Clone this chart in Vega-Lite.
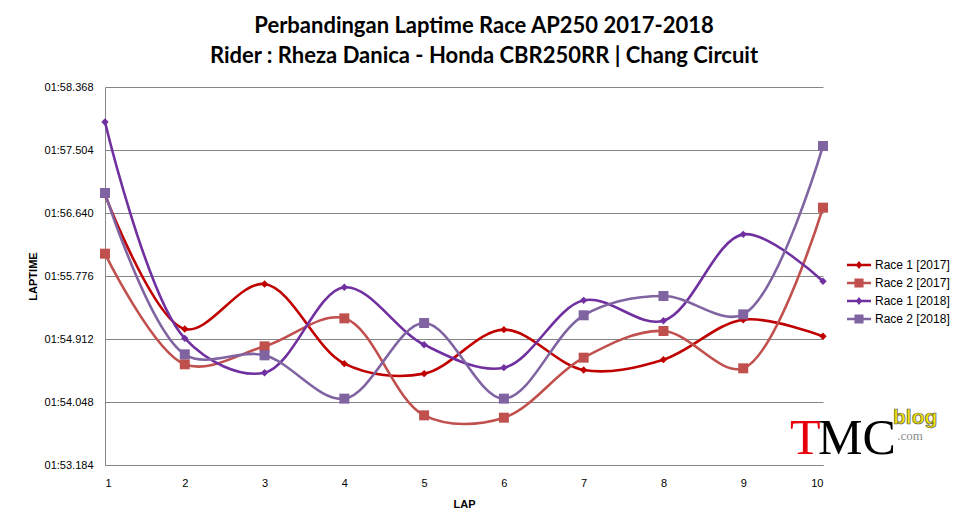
{
  "$schema": "https://vega.github.io/schema/vega-lite/v6.json",
  "autosize": "none",
  "width": 718,
  "height": 378,
  "padding": {"left": 105, "top": 87, "right": 145, "bottom": 65},
  "background": "white",
  "config": {"view": {"stroke": null}, "font": "Liberation Sans"},
  "title": {
    "text": ["Perbandingan Laptime  Race AP250 2017-2018", "Rider : Rheza Danica - Honda CBR250RR | Chang Circuit"],
    "font": "Lato",
    "fontSize": 22,
    "fontWeight": "bold",
    "lineHeight": 30,
    "color": "black",
    "anchor": "middle",
    "frame": "group",
    "dx": 20,
    "offset": 13
  },
  "datasets": {
    "laps": [
      {"lap": 1, "series": "Race 1 [2017]", "laptime": 116.89},
      {"lap": 2, "series": "Race 1 [2017]", "laptime": 115.049},
      {"lap": 3, "series": "Race 1 [2017]", "laptime": 115.666},
      {"lap": 4, "series": "Race 1 [2017]", "laptime": 114.574},
      {"lap": 5, "series": "Race 1 [2017]", "laptime": 114.437},
      {"lap": 6, "series": "Race 1 [2017]", "laptime": 115.04},
      {"lap": 7, "series": "Race 1 [2017]", "laptime": 114.487},
      {"lap": 8, "series": "Race 1 [2017]", "laptime": 114.629},
      {"lap": 9, "series": "Race 1 [2017]", "laptime": 115.177},
      {"lap": 10, "series": "Race 1 [2017]", "laptime": 114.949},
      {"lap": 1, "series": "Race 2 [2017]", "laptime": 116.082},
      {"lap": 2, "series": "Race 2 [2017]", "laptime": 114.565},
      {"lap": 3, "series": "Race 2 [2017]", "laptime": 114.811},
      {"lap": 4, "series": "Race 2 [2017]", "laptime": 115.195},
      {"lap": 5, "series": "Race 2 [2017]", "laptime": 113.865},
      {"lap": 6, "series": "Race 2 [2017]", "laptime": 113.833},
      {"lap": 7, "series": "Race 2 [2017]", "laptime": 114.656},
      {"lap": 8, "series": "Race 2 [2017]", "laptime": 115.022},
      {"lap": 9, "series": "Race 2 [2017]", "laptime": 114.51},
      {"lap": 10, "series": "Race 2 [2017]", "laptime": 116.713},
      {"lap": 1, "series": "Race 1 [2018]", "laptime": 117.888},
      {"lap": 2, "series": "Race 1 [2018]", "laptime": 114.921},
      {"lap": 3, "series": "Race 1 [2018]", "laptime": 114.45},
      {"lap": 4, "series": "Race 1 [2018]", "laptime": 115.621},
      {"lap": 5, "series": "Race 1 [2018]", "laptime": 114.834},
      {"lap": 6, "series": "Race 1 [2018]", "laptime": 114.519},
      {"lap": 7, "series": "Race 1 [2018]", "laptime": 115.442},
      {"lap": 8, "series": "Race 1 [2018]", "laptime": 115.163},
      {"lap": 9, "series": "Race 1 [2018]", "laptime": 116.347},
      {"lap": 10, "series": "Race 1 [2018]", "laptime": 115.703},
      {"lap": 1, "series": "Race 2 [2018]", "laptime": 116.914},
      {"lap": 2, "series": "Race 2 [2018]", "laptime": 114.702},
      {"lap": 3, "series": "Race 2 [2018]", "laptime": 114.688},
      {"lap": 4, "series": "Race 2 [2018]", "laptime": 114.094},
      {"lap": 5, "series": "Race 2 [2018]", "laptime": 115.131},
      {"lap": 6, "series": "Race 2 [2018]", "laptime": 114.094},
      {"lap": 7, "series": "Race 2 [2018]", "laptime": 115.237},
      {"lap": 8, "series": "Race 2 [2018]", "laptime": 115.502},
      {"lap": 9, "series": "Race 2 [2018]", "laptime": 115.25},
      {"lap": 10, "series": "Race 2 [2018]", "laptime": 117.559}
    ],
    "logo": [
      {"part": "T", "lap": 9.587, "laptime": 113.545},
      {"part": "MC", "lap": 9.937, "laptime": 113.545},
      {"part": "blog", "lap": 10.877, "laptime": 113.745},
      {"part": ".com", "lap": 10.93, "laptime": 113.578}
    ]
  },
  "layer": [
    {
      "data": {"name": "laps"},
      "encoding": {
        "x": {
          "field": "lap", "type": "quantitative",
          "scale": {"domain": [1, 10], "nice": false, "zero": false},
          "axis": {
            "values": [1, 2, 3, 4, 5, 6, 7, 8, 9, 10], "format": "d", "title": "LAP",
            "grid": false, "ticks": false, "domainColor": "#868686",
            "labelFont": "Liberation Sans", "labelFontSize": 11, "labelColor": "black", "labelPadding": 12,
            "titleFont": "Liberation Sans", "titleFontSize": 11, "titleFontWeight": "bold", "titleColor": "black", "titlePadding": 10
          }
        },
        "y": {
          "field": "laptime", "type": "quantitative",
          "scale": {"domain": [113.184, 118.368], "nice": false, "zero": false},
          "axis": {
            "values": [113.184, 114.048, 114.912, 115.776, 116.64, 117.504, 118.368],
            "labelExpr": "'01:' + format(datum.value - 60, '06.3f')",
            "title": "LAPTIME", "grid": true, "gridColor": "#868686", "gridOpacity": 1,
            "ticks": false, "domainColor": "#868686",
            "labelFont": "Liberation Sans", "labelFontSize": 11, "labelColor": "black", "labelPadding": 12,
            "titleFont": "Liberation Sans", "titleFontSize": 11, "titleFontWeight": "bold", "titleColor": "black", "titlePadding": 6
          }
        },
        "color": {
          "field": "series", "type": "nominal",
          "scale": {
            "domain": ["Race 1 [2017]", "Race 2 [2017]", "Race 1 [2018]", "Race 2 [2018]"],
            "range": ["#C00000", "#C0504D", "#7030A0", "#8064A2"]
          },
          "legend": {
            "title": null, "orient": "none", "legendX": 742, "legendY": 166,
            "labelFont": "Liberation Sans", "labelFontSize": 12, "labelColor": "black",
            "symbolType": "M-1,-0.11H1V0.11H-1Z M-0.38,-0.38H0.38V0.38H-0.38Z",
            "symbolSize": 576, "symbolStrokeWidth": 0, "symbolOpacity": 1, "rowPadding": 0, "labelOffset": 4,
            "encode": {
              "symbols": {
                "update": {
                  "shape": {"signal": "indexof(datum.value, 'Race 1') === 0 ? 'M-1,-0.11H1V0.11H-1Z M0,-0.33L0.27,0L0,0.33L-0.27,0Z' : 'M-1,-0.11H1V0.11H-1Z M-0.38,-0.38H0.38V0.38H-0.38Z'"}
                }
              }
            }
          }
        }
      },
      "layer": [
        {"mark": {"type": "line", "interpolate": "catmull-rom", "strokeWidth": 2.6}},
        {
          "transform": [{"filter": "indexof(datum.series, 'Race 1') === 0"}],
          "mark": {"type": "point", "filled": true, "opacity": 1, "shape": "diamond", "size": 55}
        },
        {
          "transform": [{"filter": "indexof(datum.series, 'Race 2') === 0"}],
          "mark": {"type": "point", "filled": true, "opacity": 1, "shape": "square", "size": 100}
        }
      ]
    },
    {
      "data": {"name": "logo"},
      "transform": [{"filter": "datum.part === 'T'"}],
      "mark": {"type": "text", "font": "Liberation Serif", "fontSize": 50, "color": "#E8000B", "align": "left", "baseline": "middle"},
      "encoding": {
        "x": {"field": "lap", "type": "quantitative"},
        "y": {"field": "laptime", "type": "quantitative"},
        "text": {"field": "part"}
      }
    },
    {
      "data": {"name": "logo"},
      "transform": [{"filter": "datum.part === 'MC'"}],
      "mark": {"type": "text", "font": "Liberation Serif", "fontSize": 50, "color": "black", "align": "left", "baseline": "middle"},
      "encoding": {
        "x": {"field": "lap", "type": "quantitative"},
        "y": {"field": "laptime", "type": "quantitative"},
        "text": {"field": "part"}
      }
    },
    {
      "data": {"name": "logo"},
      "transform": [{"filter": "datum.part === 'blog'"}],
      "mark": {"type": "text", "font": "Liberation Sans", "fontSize": 21, "fontWeight": "bold", "fill": "#F2E500", "stroke": "#555555", "strokeWidth": 0.7, "align": "left", "baseline": "alphabetic"},
      "encoding": {
        "x": {"field": "lap", "type": "quantitative"},
        "y": {"field": "laptime", "type": "quantitative"},
        "text": {"field": "part"}
      }
    },
    {
      "data": {"name": "logo"},
      "transform": [{"filter": "datum.part === '.com'"}],
      "mark": {"type": "text", "font": "Liberation Serif", "fontSize": 13, "color": "#8A8A8A", "align": "left", "baseline": "middle"},
      "encoding": {
        "x": {"field": "lap", "type": "quantitative"},
        "y": {"field": "laptime", "type": "quantitative"},
        "text": {"field": "part"}
      }
    }
  ]
}
